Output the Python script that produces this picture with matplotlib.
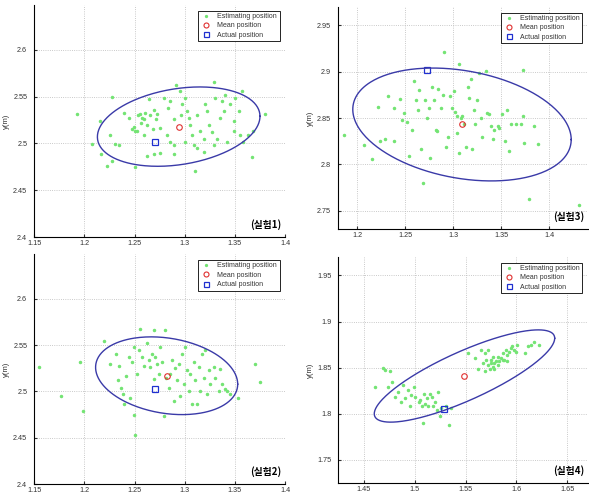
import numpy as np
import matplotlib
matplotlib.use("Agg")
import matplotlib.pyplot as plt
from matplotlib.ticker import MultipleLocator, FuncFormatter

plt.rcParams['font.family'] = ['Liberation Sans', 'DejaVu Sans']

# estimated points (x, y)
p1_pts = [(1.193,2.531),(1.208,2.499),(1.217,2.489),(1.223,2.476),(1.228,2.481),(1.228,2.550),(1.216,2.524),(1.226,2.509),(1.231,2.499),(1.235,2.498),
          (1.240,2.533),(1.244,2.527),(1.247,2.515),(1.250,2.513),(1.252,2.513),(1.249,2.518),(1.255,2.531),(1.257,2.527),(1.259,2.526),(1.260,2.533),
          (1.262,2.520),(1.259,2.509),(1.262,2.487),(1.269,2.489),(1.275,2.490),(1.264,2.547),(1.269,2.536),(1.272,2.531),(1.271,2.526),(1.275,2.516),
          (1.279,2.549),(1.282,2.509),(1.285,2.502),(1.289,2.526),(1.291,2.563),(1.295,2.556),(1.297,2.542),(1.300,2.549),(1.302,2.535),(1.304,2.527),
          (1.305,2.520),(1.307,2.509),(1.309,2.498),(1.312,2.495),(1.315,2.513),(1.319,2.505),(1.320,2.542),(1.322,2.535),(1.324,2.520),(1.329,2.566),
          (1.330,2.549),(1.332,2.505),(1.335,2.527),(1.339,2.535),(1.340,2.552),(1.345,2.542),(1.349,2.524),(1.350,2.549),(1.354,2.535),(1.357,2.556),
          (1.363,2.509),(1.367,2.486),(1.380,2.531),(1.358,2.502),(1.349,2.513),(1.289,2.489),(1.310,2.471),(1.250,2.475),(1.289,2.498),(1.300,2.502),
          (1.319,2.491),(1.329,2.498),(1.342,2.502),(1.355,2.509),(1.368,2.513),(1.256,2.522),(1.265,2.530),(1.253,2.530),(1.268,2.515),(1.296,2.530),
          (1.312,2.530),(1.327,2.512),(1.337,2.545),(1.283,2.538),(1.285,2.545)]

p2_pts = [(1.155,2.526),(1.177,2.495),(1.196,2.532),(1.199,2.479),(1.220,2.554),(1.226,2.530),(1.232,2.541),(1.234,2.512),(1.235,2.528),(1.237,2.504),
          (1.239,2.497),(1.240,2.486),(1.242,2.517),(1.244,2.537),(1.245,2.493),(1.247,2.532),(1.249,2.475),(1.250,2.453),(1.249,2.548),(1.252,2.519),
          (1.254,2.545),(1.255,2.568),(1.257,2.537),(1.259,2.528),(1.262,2.552),(1.264,2.534),(1.265,2.526),(1.267,2.541),(1.269,2.566),(1.269,2.514),
          (1.270,2.537),(1.272,2.530),(1.274,2.519),(1.275,2.548),(1.277,2.532),(1.279,2.473),(1.280,2.566),(1.281,2.515),(1.284,2.504),(1.285,2.519),
          (1.287,2.534),(1.289,2.490),(1.290,2.525),(1.292,2.512),(1.294,2.530),(1.295,2.495),(1.297,2.541),(1.299,2.508),(1.300,2.548),(1.302,2.523),
          (1.304,2.501),(1.305,2.519),(1.307,2.486),(1.309,2.532),(1.310,2.512),(1.312,2.486),(1.314,2.526),(1.315,2.501),(1.317,2.541),(1.319,2.515),
          (1.320,2.545),(1.322,2.497),(1.324,2.523),(1.325,2.508),(1.329,2.526),(1.330,2.515),(1.334,2.501),(1.335,2.524),(1.337,2.508),(1.340,2.503),
          (1.342,2.501),(1.345,2.497),(1.353,2.493),(1.370,2.530),(1.375,2.510)]

p3_pts = [(1.186,2.832),(1.207,2.821),(1.215,2.806),(1.222,2.862),(1.224,2.825),(1.229,2.827),(1.232,2.874),(1.238,2.825),(1.238,2.861),(1.244,2.871),
          (1.247,2.848),(1.249,2.855),(1.252,2.846),(1.254,2.809),(1.257,2.837),(1.259,2.890),(1.261,2.870),(1.263,2.859),(1.264,2.880),(1.266,2.816),
          (1.268,2.780),(1.271,2.870),(1.273,2.850),(1.275,2.861),(1.276,2.807),(1.278,2.884),(1.280,2.870),(1.282,2.837),(1.283,2.836),(1.284,2.881),
          (1.287,2.861),(1.289,2.875),(1.290,2.921),(1.292,2.819),(1.294,2.830),(1.297,2.874),(1.299,2.861),(1.301,2.879),(1.302,2.857),(1.304,2.852),
          (1.304,2.834),(1.306,2.908),(1.306,2.812),(1.308,2.850),(1.309,2.852),(1.311,2.843),(1.313,2.819),(1.315,2.884),(1.316,2.872),(1.318,2.892),
          (1.319,2.816),(1.322,2.859),(1.323,2.843),(1.325,2.870),(1.327,2.899),(1.329,2.850),(1.330,2.830),(1.334,2.901),(1.335,2.855),(1.337,2.854),
          (1.339,2.841),(1.341,2.827),(1.342,2.837),(1.346,2.841),(1.348,2.839),(1.351,2.854),(1.354,2.825),(1.356,2.859),(1.358,2.814),(1.360,2.843),
          (1.365,2.843),(1.370,2.843),(1.372,2.852),(1.372,2.902),(1.374,2.823),(1.379,2.762),(1.384,2.841),(1.388,2.822),(1.431,2.756)]

p4_pts = [(1.461,1.829),(1.469,1.850),(1.471,1.847),(1.476,1.846),(1.474,1.829),(1.478,1.835),(1.481,1.818),(1.484,1.824),(1.487,1.813),(1.489,1.831),
          (1.491,1.817),(1.494,1.826),(1.496,1.808),(1.497,1.820),(1.499,1.829),(1.500,1.818),(1.504,1.813),(1.505,1.815),(1.507,1.809),(1.508,1.790),
          (1.509,1.822),(1.510,1.811),(1.512,1.817),(1.513,1.808),(1.515,1.822),(1.517,1.818),(1.518,1.809),(1.520,1.813),(1.522,1.804),(1.523,1.824),
          (1.525,1.798),(1.526,1.806),(1.531,1.808),(1.534,1.788),(1.536,1.806),
          (1.552,1.866),(1.559,1.860),(1.562,1.849),(1.565,1.869),(1.567,1.855),(1.569,1.846),(1.570,1.858),(1.572,1.853),(1.574,1.849),(1.575,1.855),
          (1.575,1.858),(1.577,1.851),(1.578,1.855),(1.580,1.857),(1.582,1.862),(1.583,1.857),(1.585,1.860),(1.587,1.866),(1.588,1.858),(1.590,1.869),
          (1.591,1.864),(1.593,1.867),(1.595,1.871),(1.596,1.873),(1.598,1.869),(1.600,1.867),(1.601,1.875),(1.608,1.866),(1.611,1.873),(1.614,1.875),
          (1.617,1.878),(1.622,1.875),(1.572,1.869),(1.577,1.862),(1.578,1.849),(1.569,1.866),(1.582,1.853),(1.587,1.858),(1.591,1.857)]

# mean / actual positions
means = [(1.294, 2.518), (1.282, 2.517), (1.309, 2.843), (1.549, 1.841)]
actuals = [(1.270, 2.502), (1.270, 2.503), (1.273, 2.902), (1.529, 1.805)]

# ellipse: x half-extent, y half-extent, y offset at rightmost point
ell_xh = [0.081, 0.0708, 0.1137, 0.0885]
ell_yh = [0.0424, 0.042, 0.061, 0.050]
ell_ry = [0.011, -0.0091, -0.0163, 0.0409]

labels = ["(실험1)", "(실험2)", "(실험3)", "(실험4)"]
xlims = [(1.15, 1.4), (1.15, 1.4), (1.18, 1.44), (1.425, 1.67)]
ylims = [(2.4, 2.648), (2.4, 2.648), (2.73, 2.97), (1.725, 1.97)]

# axes boxes in figure fraction [left, bottom, width, height]
boxes = [[0.058, 0.525, 0.426, 0.465],
         [0.058, 0.030, 0.426, 0.460],
         [0.574, 0.541, 0.424, 0.445],
         [0.574, 0.032, 0.424, 0.453]]

fig = plt.figure(figsize=(5.89, 4.99), dpi=100)
fmt = FuncFormatter(lambda v, _: f"{v:g}")
all_pts = [p1_pts, p2_pts, p3_pts, p4_pts]

for i in range(4):
    ax = fig.add_axes(boxes[i])
    pts = np.array(all_pts[i])
    ax.plot(pts[:, 0], pts[:, 1], '.', color='#74e474', markersize=3, label='Estimating position')
    ax.plot(*means[i], 'o', mfc='none', mec='#e03030', markersize=4, mew=0.8, label='Mean position')
    ax.plot(*actuals[i], 's', mfc='none', mec='#2030d0', markersize=4, mew=0.9, label='Actual position')

    t = np.linspace(0, 2 * np.pi, 300)
    cx, cy = means[i]
    xh, yh, ry = ell_xh[i], ell_yh[i], ell_ry[i]
    ex = cx + xh * np.cos(t)
    ey = cy + ry * np.cos(t) + np.sqrt(yh**2 - ry**2) * np.sin(t)
    ax.plot(ex, ey, color='#3a3aa8', lw=1.0)

    ax.set_xlim(xlims[i])
    ax.set_ylim(ylims[i])
    ax.xaxis.set_major_locator(MultipleLocator(0.05))
    ax.yaxis.set_major_locator(MultipleLocator(0.05))
    ax.xaxis.set_major_formatter(fmt)
    ax.yaxis.set_major_formatter(fmt)
    ax.tick_params(labelsize=5.2, length=2, direction='in', colors='#333333')
    ax.tick_params(axis='x', pad=2)
    ax.tick_params(axis='y', pad=5)
    ax.grid(True, linestyle=':', color='#b8b8b8', lw=0.6)
    ax.spines['top'].set_visible(False)
    ax.spines['right'].set_visible(False)
    ax.set_ylabel('y(m)', fontsize=5.5, labelpad=2, color='#333333')

    leg = ax.legend(loc='upper right', fontsize=5, fancybox=False, framealpha=1,
                    borderaxespad=0.8, handletextpad=0.8, borderpad=0.35,
                    labelspacing=0.35, handlelength=1.6, markerscale=0.9)
    leg.get_frame().set_edgecolor('black')
    leg.get_frame().set_linewidth(0.6)
    for txt in leg.get_texts():
        txt.set_color('#333333')

    ax.text(0.985, 0.03, labels[i], transform=ax.transAxes, ha='right', va='bottom',
            fontsize=7, fontweight='bold', family=['Noto Sans CJK KR', 'DejaVu Sans'])

fig.savefig('out.png', dpi=100)
